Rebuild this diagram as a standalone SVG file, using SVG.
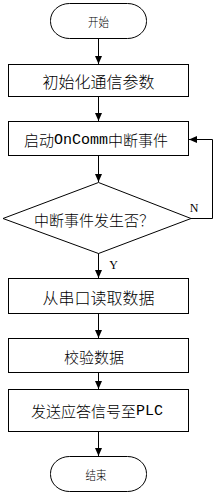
<svg xmlns="http://www.w3.org/2000/svg" width="214" height="495" viewBox="0 0 214 495">
<defs>
<style>
.s{fill:#fff;stroke:#000;stroke-width:1}
.t{font-family:"Noto Sans CJK SC",sans-serif;font-weight:300;font-size:15px;fill:#000;text-anchor:middle;dominant-baseline:central}
.m{font-family:"Liberation Mono",monospace;font-weight:400}
.tt{font-family:"Noto Sans CJK SC",sans-serif;font-weight:300;font-size:12px;fill:#000;text-anchor:middle;dominant-baseline:central}
.l{font-family:"Liberation Serif",serif;font-size:12px;fill:#000;text-anchor:middle}
.c{fill:none;stroke:#000;stroke-width:1}
</style>
<marker id="a" viewBox="0 0 8 8" refX="8" refY="4" markerWidth="8" markerHeight="8" markerUnits="userSpaceOnUse" orient="auto">
<path d="M0,0.5 L8,4 L0,7.5 Z" fill="#000"/>
</marker>
</defs>
<g id="connectors">
<line class="c" x1="98.5" y1="38" x2="98.5" y2="64" marker-end="url(#a)"/>
<line class="c" x1="98.5" y1="97" x2="98.5" y2="121" marker-end="url(#a)"/>
<line class="c" x1="98.5" y1="156" x2="98.5" y2="182" marker-end="url(#a)"/>
<polyline class="c" points="191,218.5 212.5,218.5 212.5,139.5 189,139.5" marker-end="url(#a)"/>
<line class="c" x1="98.5" y1="253" x2="98.5" y2="278" marker-end="url(#a)"/>
<line class="c" x1="98.5" y1="314" x2="98.5" y2="338" marker-end="url(#a)"/>
<line class="c" x1="98.5" y1="373" x2="98.5" y2="389" marker-end="url(#a)"/>
<line class="c" x1="98.5" y1="432" x2="98.5" y2="456" marker-end="url(#a)"/>
<text class="l" x="194" y="212">N</text>
<text class="l" x="113.5" y="269">Y</text>
</g>
<g id="start">
<rect class="s" x="50.5" y="3.5" width="96" height="35" rx="19" ry="17"/>
<text class="tt" x="98.5" y="21" textLength="21" lengthAdjust="spacingAndGlyphs">开始</text>
</g>
<g id="init">
<rect class="s" x="8.5" y="64.5" width="180" height="32"/>
<text class="t" x="98.5" y="81" style="font-size:16px">初始化通信参数</text>
</g>
<g id="oncomm">
<rect class="s" x="8.5" y="121.5" width="180" height="34"/>
<text class="t" x="96" y="139.5">启动<tspan class="m">OnComm</tspan>中断事件</text>
</g>
<g id="decision">
<polygon class="s" points="98.5,182.5 191,218.5 98.5,253.5 3,218.5"/>
<text class="t" x="94" y="219">中断事件发生否？</text>
</g>
<g id="read">
<rect class="s" x="8.5" y="278.5" width="180" height="35"/>
<text class="t" x="98.5" y="296.5" style="font-size:16px">从串口读取数据</text>
</g>
<g id="verify">
<rect class="s" x="8.5" y="338.5" width="180" height="34"/>
<text class="t" x="94" y="356">校验数据</text>
</g>
<g id="reply">
<rect class="s" x="8.5" y="389.5" width="180" height="42"/>
<text class="t" x="97" y="410.5">发送应答信号至<tspan class="m">PLC</tspan></text>
</g>
<g id="end">
<rect class="s" x="50.5" y="456.5" width="96" height="35" rx="19" ry="17"/>
<text class="tt" x="96" y="474" textLength="21" lengthAdjust="spacingAndGlyphs">结束</text>
</g>
</svg>
